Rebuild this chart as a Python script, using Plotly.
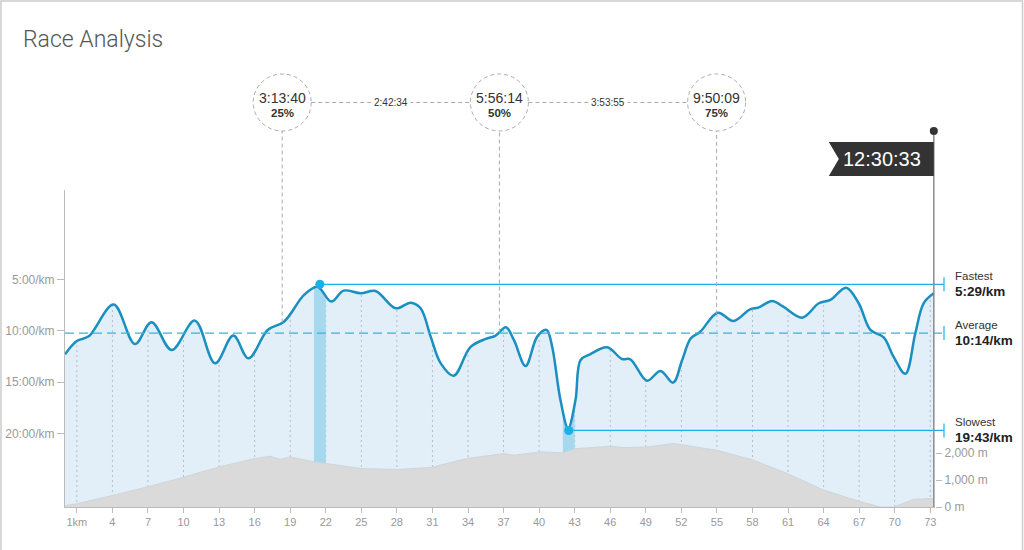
import numpy as np
import plotly.graph_objects as go

# ---------------- data ----------------
pace_km = [0.0, 1.0, 2.0, 4.1, 5.9, 7.3, 9.0, 10.95, 12.66, 14.2, 15.48, 17.1, 18.5,
           20.17, 21.3, 22.47, 23.5, 24.95, 26.2, 27.9, 29.16, 30.0, 30.85, 31.7, 32.8,
           34.2, 35.5, 36.3, 37.2, 37.87, 38.86, 39.84, 40.63, 41.1, 41.8, 42.45, 43.07,
           43.5, 44.3, 45.74, 47.0, 47.7, 49.1, 50.24, 51.3, 52.07, 52.8, 53.6, 55.07,
           56.4, 57.8, 58.5, 59.66, 60.6, 62.2, 63.6, 64.57, 65.9, 66.96, 67.95, 69.07,
           69.9, 70.9, 71.74, 72.44, 73.3]
pace_min = [12.3, 11.0, 10.55, 7.45, 11.3, 9.18, 11.88, 9.02, 13.18, 10.48, 12.69, 9.93, 9.1,
            6.52, 5.72, 7.17, 6.1, 6.36, 6.13, 7.82, 7.27, 7.82, 10.58, 13.18, 14.38,
            11.6, 10.8, 10.5, 9.67, 10.9, 13.44, 10.58, 9.93, 11.56, 16.75, 19.5, 16.75,
            12.85, 12.3, 11.62, 12.76, 12.79, 14.87, 13.92, 15.06, 12.85, 10.74, 10.1, 8.25,
            9.06, 7.92, 7.76, 7.1, 7.66, 8.73, 7.33, 7.0, 5.81, 7.33, 9.93, 10.65,
            12.53, 14.2, 10.25, 7.33, 6.36]

elev_km = [0, 1, 4.1, 7, 10.1, 13, 16, 17.3, 18.2, 19, 21, 22, 23.3, 25, 28, 30.85, 33.9,
           37, 37.9, 40.1, 42, 43.1, 46, 47, 49.1, 51.35, 55, 58.1, 60.9, 64, 67.1, 68.8,
           69.9, 71.6, 73.3]
elev_m = [50, 120, 440, 750, 1120, 1490, 1800, 1890, 1770, 1860, 1680, 1620, 1555, 1430,
          1395, 1470, 1800, 1985, 1925, 2050, 2010, 2170, 2260, 2210, 2230, 2360, 2110, 1740,
          1250, 630, 200, 0, 0, 285, 320]

x_tickvals = list(range(1, 74, 3))
x_ticktext = ["1km"] + [str(v) for v in x_tickvals[1:]]
pace_tickvals = [5, 10, 15, 20]
pace_ticktext = ["5:00/km", "10:00/km", "15:00/km", "20:00/km"]
elev_tickvals = [0, 1000, 2000]
elev_ticktext = ["0 m", "1,000 m", "2,000 m"]

total_km = 73.3
quarter_frac = [0.25, 0.5, 0.75]
quarter_time = ["3:13:40", "5:56:14", "9:50:09"]
quarter_pct = ["25%", "50%", "75%"]
split_time = ["2:42:34", "3:53:55"]
total_time = "12:30:33"

fast_km, fast_pace, fast_label = 21.5, 5 + 29 / 60, "5:29/km"
avg_pace, avg_label = 10 + 14 / 60, "10:14/km"
slow_km, slow_pace, slow_label = 42.5, 19 + 43 / 60, "19:43/km"

# ---------------- geometry ----------------
W, H = 1024, 550
ML, MR, MT, MB = 65, 89, 190, 43
PW, PH = W - ML - MR, H - MT - MB
X_RANGE = [0, 73.4]
Y_RANGE = [27.17, -3.70]
Y2_RANGE = [0, 11784]


def px_x(px):
    return (px - ML) / PW


def px_y(py):
    return (H - MB - py) / PH


def km_to_paper(k):
    return (k - X_RANGE[0]) / (X_RANGE[1] - X_RANGE[0])


def pace_to_paper(p):
    return (Y_RANGE[0] - p) / (Y_RANGE[0] - Y_RANGE[1])


px_per_km = PW / (X_RANGE[1] - X_RANGE[0])

FONT = "Liberation Sans, Arial, sans-serif"
CURVE = "#1a8fc0"
CYAN = "#1ab0e8"

fig = go.Figure()

n = len(pace_km)
fig.add_trace(go.Scatter(x=pace_km, y=[Y_RANGE[1]] * n, mode="lines",
                         line=dict(width=0), hoverinfo="skip", showlegend=False))
fig.add_trace(go.Scatter(x=pace_km, y=pace_min, mode="lines", line=dict(width=0, shape="spline"),
                         fill="tonexty", fillcolor="white", hoverinfo="skip", showlegend=False))
fig.add_trace(go.Scatter(x=pace_km, y=[Y_RANGE[0]] * n, mode="lines",
                         line=dict(width=0), hoverinfo="skip", showlegend=False))
fig.add_trace(go.Scatter(x=pace_km, y=pace_min, mode="lines",
                         line=dict(width=2.5, color=CURVE, shape="spline"),
                         fill="tonexty", fillcolor="rgba(100,170,220,0.19)", showlegend=False))
fig.add_trace(go.Scatter(x=[fast_km, slow_km], y=[fast_pace, slow_pace], mode="markers",
                         marker=dict(size=9, color=CYAN), showlegend=False))
fig.add_trace(go.Scatter(x=elev_km, y=elev_m, yaxis="y2", mode="lines",
                         line=dict(width=1, color="#cdd6db"), fill="tozeroy",
                         fillcolor="#dadada", showlegend=False))

shapes = []
# dotted gridlines (hidden above curve by white fill)
for xv in x_tickvals:
    shapes.append(dict(type="line", xref="x", yref="y", x0=xv, x1=xv, y0=Y_RANGE[0], y1=Y_RANGE[1],
                       line=dict(color="#c6c6c6", width=1, dash="2px,3px"), layer="below"))
# fastest / slowest bands
for k in (fast_km, slow_km):
    shapes.append(dict(type="rect", xref="x", yref="y", x0=k - 0.5, x1=k + 0.5,
                       y0=Y_RANGE[0], y1=Y_RANGE[1], fillcolor="#b5e4f3",
                       line=dict(width=0), layer="below"))

tick_x = px_x(944)
# fastest / slowest / average lines
shapes.append(dict(type="line", xref="paper", yref="y", x0=km_to_paper(fast_km), x1=tick_x,
                   y0=fast_pace, y1=fast_pace, line=dict(color=CYAN, width=1.2)))
shapes.append(dict(type="line", xref="paper", yref="y", x0=km_to_paper(slow_km), x1=tick_x,
                   y0=slow_pace, y1=slow_pace, line=dict(color=CYAN, width=1.2)))
shapes.append(dict(type="line", xref="paper", yref="y", x0=0, x1=tick_x,
                   y0=avg_pace, y1=avg_pace, line=dict(color="#3ab0e2", width=1.2, dash="9px,5px")))
for p in (fast_pace, avg_pace, slow_pace):
    shapes.append(dict(type="line", xref="paper", yref="y", ysizemode="pixel", yanchor=p,
                       x0=tick_x, x1=tick_x, y0=-7, y1=7, line=dict(color=CYAN, width=1.2)))

# quarter markers
circ_cy = px_y(102.5)
rx, ry = 29 / PW, 28.5 / PH
q_km = [f * total_km for f in quarter_frac]
for i, k in enumerate(q_km):
    cx = km_to_paper(k)
    curve_p = float(np.interp(k, pace_km, pace_min))
    shapes.append(dict(type="line", xref="paper", yref="paper", x0=cx, x1=cx,
                       y0=pace_to_paper(curve_p), y1=circ_cy - ry,
                       line=dict(color="#aaaaaa", width=1, dash="4px,3px")))
    shapes.append(dict(type="circle", xref="paper", yref="paper", x0=cx - rx, x1=cx + rx,
                       y0=circ_cy - ry, y1=circ_cy + ry,
                       line=dict(color="#aaaaaa", width=1, dash="4px,3px")))
for i in range(len(q_km) - 1):
    shapes.append(dict(type="line", xref="paper", yref="paper",
                       x0=km_to_paper(q_km[i]) + rx, x1=km_to_paper(q_km[i + 1]) - rx,
                       y0=circ_cy, y1=circ_cy,
                       line=dict(color="#aaaaaa", width=1, dash="4px,3px")))

# finish flag
pole_px = ML + total_km * px_per_km
pole_x = px_x(pole_px)
shapes.append(dict(type="line", xref="paper", yref="paper", x0=pole_x, x1=pole_x,
                   y0=0, y1=px_y(131), line=dict(color="#8a8a8a", width=1.5)))
fl, fn, ft, fb = px_x(pole_px - 105), px_x(pole_px - 95), px_y(142), px_y(176)
fm = px_y(159)
shapes.append(dict(type="path", xref="paper", yref="paper",
                   path=f"M {fl},{ft} L {pole_x},{ft} L {pole_x},{fb} L {fl},{fb} L {fn},{fm} Z",
                   fillcolor="#333333", line=dict(width=0)))
shapes.append(dict(type="circle", xref="paper", yref="paper",
                   x0=pole_x - 4 / PW, x1=pole_x + 4 / PW, y0=px_y(131) - 4 / PH, y1=px_y(131) + 4 / PH,
                   fillcolor="#333333", line=dict(width=0)))

# page border
shapes.append(dict(type="rect", xref="paper", yref="paper", x0=px_x(1), x1=px_x(1022.5),
                   y0=px_y(600), y1=px_y(1), line=dict(color="#cccccc", width=1.5),
                   fillcolor="rgba(0,0,0,0)"))

ann = []
ann.append(dict(text="Race Analysis", xref="paper", yref="paper", x=px_x(21), y=px_y(39),
                xanchor="left", yanchor="middle", showarrow=False,
                font=dict(family="Roboto, Liberation Sans, sans-serif", size=23, color="#555555",
                          weight=300)))
for i, k in enumerate(q_km):
    cx = km_to_paper(k)
    ann.append(dict(text=quarter_time[i], xref="paper", yref="paper", x=cx, y=px_y(98),
                    xanchor="center", yanchor="middle",
                    showarrow=False, font=dict(family=FONT, size=14, color="#333333")))
    ann.append(dict(text=f"<b>{quarter_pct[i]}</b>", xref="paper", yref="paper", x=cx, y=px_y(113),
                    xanchor="center", yanchor="middle",
                    showarrow=False, font=dict(family=FONT, size=11.5, color="#333333")))
for i in range(len(split_time)):
    mx = (km_to_paper(q_km[i]) + km_to_paper(q_km[i + 1])) / 2
    ann.append(dict(text=split_time[i], xref="paper", yref="paper", x=mx, y=circ_cy,
                    xanchor="center", yanchor="middle",
                    showarrow=False, bgcolor="white", borderpad=2,
                    font=dict(family=FONT, size=10, color="#333333")))
ann.append(dict(text=total_time, xref="paper", yref="paper", x=px_x(pole_px - 52), y=fm,
                xanchor="center", yanchor="middle",
                showarrow=False, font=dict(family=FONT, size=20, color="white")))

lab_x = px_x(953)
for name, val, p in (("Fastest", fast_label, fast_pace), ("Average", avg_label, avg_pace),
                     ("Slowest", slow_label, slow_pace)):
    ann.append(dict(text=name, xref="paper", yref="y", x=lab_x, y=p, yshift=8,
                    xanchor="left", yanchor="middle", showarrow=False,
                    font=dict(family=FONT, size=11.5, color="#333333")))
    ann.append(dict(text=f"<b>{val}</b>", xref="paper", yref="y", x=lab_x, y=p, yshift=-7,
                    xanchor="left", yanchor="middle", showarrow=False,
                    font=dict(family=FONT, size=13.5, color="#222222")))

fig.update_layout(
    width=W, height=H,
    margin=dict(l=ML, r=MR, t=MT, b=MB, pad=0, autoexpand=False),
    paper_bgcolor="white", plot_bgcolor="white",
    showlegend=False,
    shapes=shapes, annotations=ann,
    xaxis=dict(range=X_RANGE, tickvals=x_tickvals, ticktext=x_ticktext, showgrid=False,
               zeroline=False, showline=True, linecolor="#bbbbbb", linewidth=1,
               ticks="outside", ticklen=5, tickcolor="#bbbbbb", automargin=False,
               tickfont=dict(family=FONT, size=11, color="#999999")),
    yaxis=dict(range=Y_RANGE, tickvals=pace_tickvals, ticktext=pace_ticktext, showgrid=False,
               zeroline=False, showline=True, linecolor="#bbbbbb", linewidth=1,
               ticks="outside", ticklen=7, tickcolor="#bbbbbb", automargin=False,
               tickfont=dict(family=FONT, size=12, color="#999999")),
    yaxis2=dict(range=Y2_RANGE, overlaying="y", side="right", tickvals=elev_tickvals,
                ticktext=elev_ticktext, showgrid=False, zeroline=False, showline=False,
                ticks="outside", ticklen=6, tickcolor="#bbbbbb", automargin=False,
                tickfont=dict(family=FONT, size=12, color="#999999")),
)

fig.write_html("out.html")
